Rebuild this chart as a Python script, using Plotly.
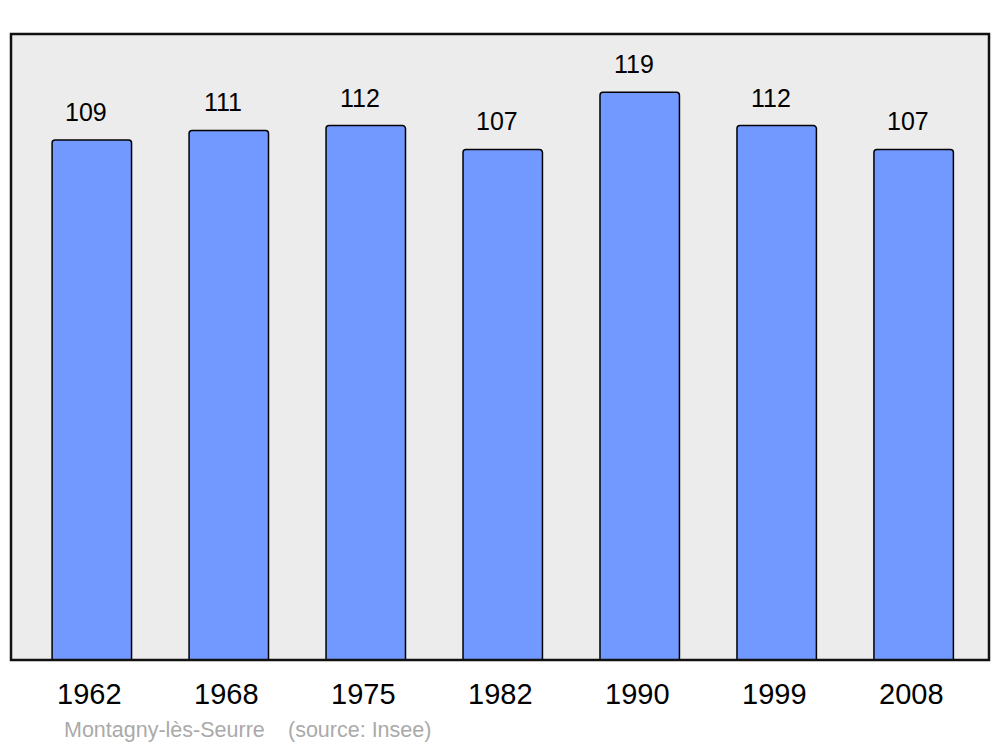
import plotly.graph_objects as go

years = ['1962', '1968', '1975', '1982', '1990', '1999', '2008']
population = [109, 111, 112, 107, 119, 112, 107]
commune = 'Montagny-lès-Seurre'
source = '(source: Insee)'

font = 'Liberation Sans, Arial, sans-serif'

fig = go.Figure(go.Bar(
    x=list(range(len(years))),
    y=population,
    marker=dict(color='#7299ff', line=dict(color='#000000', width=1.5), cornerradius=3),
    width=0.58,
    hoverinfo='skip',
))

# value labels above bars
for i, v in enumerate(population):
    fig.add_annotation(x=i, y=v, text=str(v), showarrow=False, yanchor='bottom',
                       yshift=12, xshift=-6, font=dict(size=25, color='black', family=font))

# year labels under the frame
for i, yr in enumerate(years):
    fig.add_annotation(x=i, y=0, text=yr, showarrow=False, yanchor='top', yshift=-16,
                       xshift=-2, font=dict(size=29, color='black', family=font))

# source line, placed in paper coords (plot area is 978 x 626 px)
for px_x, txt in [(62, commune), (286, source)]:
    fig.add_annotation(x=(px_x - 11) / 978, y=-(730 - 660) / 626, xref='paper', yref='paper',
                       text=txt, showarrow=False, xanchor='left', yanchor='middle',
                       font=dict(size=21.5, color='#aaaaaa', family=font))

fig.update_layout(
    width=1000, height=747,
    margin=dict(l=11, r=11, t=34, b=87),
    paper_bgcolor='white',
    plot_bgcolor='#ececec',
    showlegend=False,
    xaxis=dict(range=[-0.59, 6.55], visible=False, fixedrange=True),
    yaxis=dict(range=[0, 131.2], visible=False, fixedrange=True),
    shapes=[dict(type='rect', xref='paper', yref='paper', x0=0, x1=1, y0=0, y1=1,
                 line=dict(color='#111111', width=2.5), layer='above')],
)

fig.write_html('out.html', config={'displayModeBar': False},
               post_script="document.body.style.margin='0';")
